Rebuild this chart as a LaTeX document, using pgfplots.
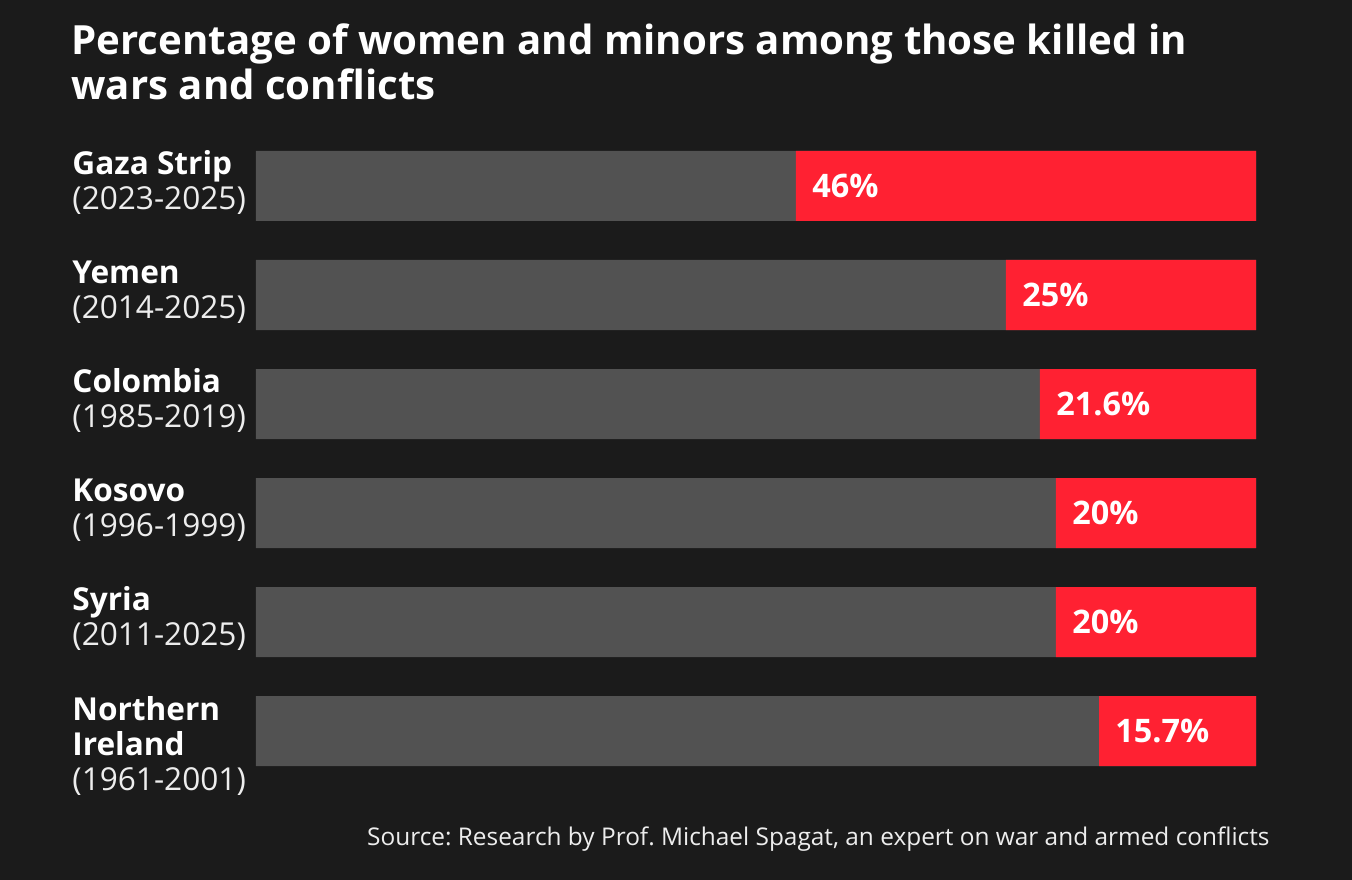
\documentclass[border=0pt]{standalone}
\usepackage{pgfplots}
\pgfplotsset{compat=1.18}
\usepackage{fontspec}
\setmainfont{Open Sans}
\frenchspacing
\definecolor{bgcol}{HTML}{1B1B1B}
\definecolor{barg}{HTML}{525252}
\definecolor{barr}{HTML}{FF2132}
\definecolor{lightt}{HTML}{EDEDED}
\begin{document}
\begin{tikzpicture}
\fill[bgcol] (0,0) rectangle (676bp,440bp);
\begin{axis}[
  at={(128bp,47.25bp)}, anchor=south west,
  scale only axis, width=500bp, height=327bp,
  xmin=0, xmax=100, x dir=reverse,
  ymin=-0.5, ymax=5.5, y dir=reverse,
  hide axis,
  xbar, bar width=35bp, bar shift=0pt,
  /pgf/number format/assume math mode=true,
]
\addplot[fill=barg, draw=none] coordinates {(100,0) (100,1) (100,2) (100,3) (100,4) (100,5)};
\addplot[fill=barr, draw=none,
  nodes near coords={\pgfmathprintnumber{\pgfplotspointmeta}\%},
  every node near coord/.append style={anchor=west, xshift=8bp, text=white,
    font=\fontsize{16.2bp}{18bp}\selectfont\bfseries, inner sep=0pt}]
  coordinates {(46,0) (25,1) (21.6,2) (20,3) (20,4) (15.7,5)};
\end{axis}
% title
\begin{scope}[every node/.style={inner sep=0pt, anchor=base west, text=white, font=\fontsize{20.1bp}{22bp}\selectfont\bfseries}]
\node at (35.5bp,412.5bp) {Percentage of women and minors among those killed in};
\node at (35.5bp,390bp) {wars and conflicts};
\end{scope}
% category labels
\begin{scope}[every node/.style={inner sep=0pt, anchor=base west, text=white, font=\fontsize{15.8bp}{17.5bp}\selectfont}]
\node[font=\fontsize{15.8bp}{17.5bp}\selectfont\bfseries] at (36bp,352.5bp) {Gaza Strip};
\node[text=lightt] at (36bp,335bp) {(2023-2025)};
\node[font=\fontsize{15.8bp}{17.5bp}\selectfont\bfseries] at (36bp,298bp) {Yemen};
\node[text=lightt] at (36bp,280.5bp) {(2014-2025)};
\node[font=\fontsize{15.8bp}{17.5bp}\selectfont\bfseries] at (36bp,243.5bp) {Colombia};
\node[text=lightt] at (36bp,226bp) {(1985-2019)};
\node[font=\fontsize{15.8bp}{17.5bp}\selectfont\bfseries] at (36bp,189bp) {Kosovo};
\node[text=lightt] at (36bp,171.5bp) {(1996-1999)};
\node[font=\fontsize{15.8bp}{17.5bp}\selectfont\bfseries] at (36bp,134.5bp) {Syria};
\node[text=lightt] at (36bp,117bp) {(2011-2025)};
\node[font=\fontsize{15.8bp}{17.5bp}\selectfont\bfseries] at (36bp,79.5bp) {Northern};
\node[font=\fontsize{15.8bp}{17.5bp}\selectfont\bfseries] at (36bp,62bp) {Ireland};
\node[text=lightt] at (36bp,44.5bp) {(1961-2001)};
\end{scope}
% source
\node[inner sep=0pt, anchor=base east, text=lightt, font=\fontsize{12.2bp}{14bp}\selectfont] at (635bp,17.5bp)
  {Source: Research by Prof. Michael Spagat, an expert on war and armed conflicts};
\end{tikzpicture}
\end{document}
